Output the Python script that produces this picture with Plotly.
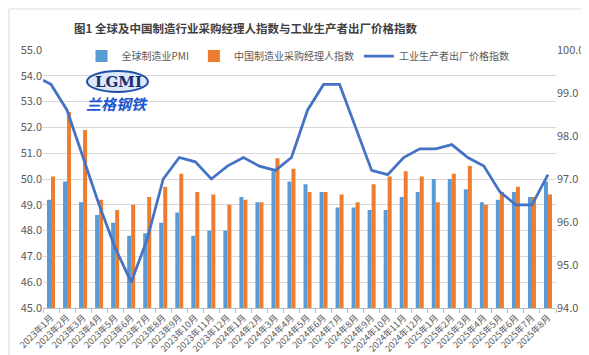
import plotly.graph_objects as go

# ---- data ----
months = ["2023年1月", "2023年2月", "2023年3月", "2023年4月", "2023年5月", "2023年6月",
          "2023年7月", "2023年8月", "2023年9月", "2023年10月", "2023年11月", "2023年12月",
          "2024年1月", "2024年2月", "2024年3月", "2024年4月", "2024年5月", "2024年6月",
          "2024年7月", "2024年8月", "2024年9月", "2024年10月", "2024年11月", "2024年12月",
          "2025年1月", "2025年2月", "2025年3月", "2025年4月", "2025年5月", "2025年6月",
          "2025年7月", "2025年8月"]
global_pmi = [49.2, 49.9, 49.1, 48.6, 48.3, 47.8, 47.9, 48.3, 48.7, 47.8, 48.0, 48.0,
              49.3, 49.1, 50.3, 49.9, 49.8, 49.5, 48.9, 48.9, 48.8, 48.8, 49.3, 49.5,
              50.0, 50.0, 49.6, 49.1, 49.2, 49.5, 49.3, 49.9]
china_pmi = [50.1, 52.6, 51.9, 49.2, 48.8, 49.0, 49.3, 49.7, 50.2, 49.5, 49.4, 49.0,
             49.2, 49.1, 50.8, 50.4, 49.5, 49.5, 49.4, 49.1, 49.8, 50.1, 50.3, 50.1,
             49.1, 50.2, 50.5, 49.0, 49.5, 49.7, 49.3, 49.4]
ppi = [99.2, 98.6, 97.5, 96.4, 95.4, 94.6, 95.6, 97.0, 97.5, 97.4, 97.0, 97.3,
       97.5, 97.3, 97.2, 97.5, 98.6, 99.2, 99.2, 98.2, 97.2, 97.1, 97.5, 97.7,
       97.7, 97.8, 97.5, 97.3, 96.7, 96.4, 96.4, 97.1]
ppi_prev = 99.3  # value carried in from the month before the first category (line starts at axis edge)
left_ticks = [45.0, 46.0, 47.0, 48.0, 49.0, 50.0, 51.0, 52.0, 53.0, 54.0, 55.0]
right_ticks = [94.0, 95.0, 96.0, 97.0, 98.0, 99.0, 100.0]

series_names = ["全球制造业PMI", "中国制造业采购经理人指数", "工业生产者出厂价格指数"]
title_text = "图1 全球及中国制造行业采购经理人指数与工业生产者出厂价格指数"

# ---- layout geometry ----
W, H = 589, 355
ML, MR, MT, MB = 35, 41, 42, 55
PW, PH = W - ML - MR, H - MT - MB


def px_x(p):
    return (p - ML) / PW


def px_y(p):
    return (H - MB - p) / PH


FONT = "Noto Sans CJK SC, Noto Sans, sans-serif"
GRAY = "#595959"
idx = list(range(len(months)))

fig = go.Figure()
fig.add_trace(go.Bar(x=idx, y=global_pmi, name=series_names[0],
                     marker=dict(color="#5B9BD5", line=dict(width=0))))
fig.add_trace(go.Bar(x=idx, y=china_pmi, name=series_names[1],
                     marker=dict(color="#ED7D31", line=dict(width=0))))
fig.add_trace(go.Scatter(x=[-0.5] + idx, y=[ppi_prev] + ppi, name=series_names[2],
                         mode="lines", yaxis="y2",
                         line=dict(color="#4472C4", width=2.75)))

fig.update_layout(
    width=W, height=H,
    margin=dict(l=ML, r=MR, t=MT, b=MB, autoexpand=False),
    paper_bgcolor="white", plot_bgcolor="white",
    barmode="group", bargap=0.5, bargroupgap=0,
    font=dict(family=FONT, color=GRAY, size=10),
    showlegend=True,
    legend=dict(orientation="h", x=px_x(290), y=px_y(48), xanchor="center", yanchor="middle",
                bgcolor="rgba(0,0,0,0)", font=dict(size=10, color=GRAY),
                itemwidth=30, tracegroupgap=0),
    xaxis=dict(
        range=[-0.5, len(months) - 0.5],
        tickmode="array", tickvals=idx, ticktext=months,
        tickangle=-45, ticks="", tickfont=dict(size=9, color=GRAY),
        showgrid=False, zeroline=False,
        showline=True, linecolor="#BFBFBF", linewidth=1,
        minor=dict(ticks="outside", tick0=-0.5, dtick=1, ticklen=4,
                   tickcolor="#BFBFBF", showgrid=False),
    ),
    yaxis=dict(
        range=[45, 55], tickmode="array", tickvals=left_ticks,
        ticktext=[f"{v:.1f}" for v in left_ticks],
        tickfont=dict(size=11, color=GRAY),
        showgrid=True, gridcolor="#D9D9D9", gridwidth=1,
        zeroline=False, showline=False, ticks="",
    ),
    yaxis2=dict(
        range=[94, 100], overlaying="y", side="right",
        tickmode="array", tickvals=right_ticks,
        ticktext=[f"{v:.1f}" for v in right_ticks],
        tickfont=dict(size=11, color=GRAY),
        showgrid=False, zeroline=False, showline=False, ticks="",
    ),
)

# title
fig.add_annotation(text="<b>" + title_text + "</b>", xref="paper", yref="paper",
                   x=px_x(237), y=px_y(20), xanchor="center", yanchor="middle",
                   showarrow=False, font=dict(size=11.5, color="#404040", family=FONT))

# logo (text-based approximation)
fig.add_shape(type="circle", xref="paper", yref="paper",
              x0=px_x(79), x1=px_x(140), y0=px_y(84), y1=px_y(63),
              line=dict(color="#1F4FA8", width=2), fillcolor="#DCE8F8", layer="above")
fig.add_annotation(text="<b>LGMI</b>", xref="paper", yref="paper",
                   x=px_x(110), y=px_y(73.5), xanchor="center", yanchor="middle",
                   showarrow=False, font=dict(size=15, color="#1A2E6E", family="DejaVu Serif"))
fig.add_annotation(text="<b><i>兰格钢铁</i></b>", xref="paper", yref="paper",
                   x=px_x(109), y=px_y(95), xanchor="center", yanchor="middle",
                   showarrow=False, font=dict(size=15, color="#1A55D0", family=FONT))

# chart border
fig.add_shape(type="rect", xref="paper", yref="paper",
              x0=px_x(1), x1=px_x(W - 2), y0=px_y(1), y1=px_y(H - 2),
              line=dict(color="#D9D9D9", width=1), fillcolor="rgba(0,0,0,0)", layer="below")

fig.write_html("out.html")
